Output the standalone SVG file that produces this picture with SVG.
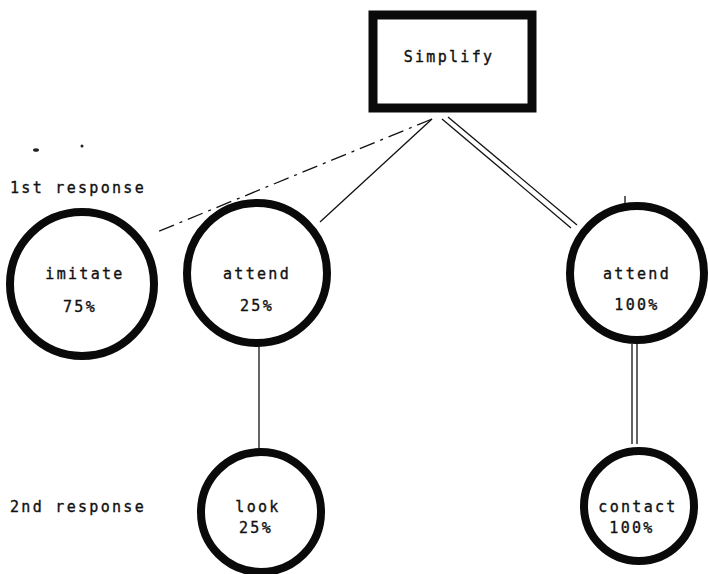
<svg xmlns="http://www.w3.org/2000/svg" width="708" height="574" viewBox="0 0 708 574">
<style>
.t{font-family:"DejaVu Sans Mono","Liberation Mono",monospace;font-size:15px;letter-spacing:2.3px;fill:#111;stroke:#111;stroke-width:0.35}
.c{text-anchor:middle}
.ring{fill:none;stroke:#0a0a0a;stroke-width:8}
.ln{stroke:#111;stroke-width:1.3;fill:none}
</style>
<rect width="708" height="574" fill="#fff"/>
<g id="connectors">
<path class="ln" d="M432,119 L157,232" stroke-dasharray="16,6,3,6"/>
<path class="ln" d="M432,119 L320,222"/>
<path class="ln" d="M442,119 L571,228"/>
<path class="ln" d="M448,117 L577,225"/>
<path class="ln" d="M625,196 L625,206"/>
<path class="ln" d="M259,346 L259,452"/>
<path class="ln" d="M632,344 L632,444"/>
<path class="ln" d="M637,344 L637,444"/>
</g>
<g id="marks">
<ellipse cx="36" cy="150" rx="3" ry="1.8" fill="#222"/>
<ellipse cx="82" cy="146" rx="1.5" ry="1.5" fill="#222"/>
</g>
<g id="simplify">
<rect x="373" y="15" width="159" height="93" fill="#fff" stroke="#0a0a0a" stroke-width="9"/>
<text class="t c" x="449" y="62">Simplify</text>
</g>
<g id="labels">
<text class="t" x="10" y="193">1st response</text>
<text class="t" x="10" y="512">2nd response</text>
</g>
<g id="imitate">
<circle class="ring" cx="82" cy="284" r="72"/>
<text class="t c" x="85" y="279">imitate</text>
<text class="t c" x="80" y="312">75%</text>
</g>
<g id="attend25">
<circle class="ring" cx="257" cy="273" r="70"/>
<text class="t c" x="257" y="279">attend</text>
<text class="t c" x="257" y="311">25%</text>
</g>
<g id="attend100">
<circle class="ring" cx="637" cy="273" r="67"/>
<text class="t c" x="637" y="279">attend</text>
<text class="t c" x="637" y="310">100%</text>
</g>
<g id="look">
<circle class="ring" cx="261" cy="512" r="60"/>
<text class="t c" x="258" y="512">look</text>
<text class="t c" x="256" y="533">25%</text>
</g>
<g id="contact">
<circle class="ring" cx="639" cy="506" r="55"/>
<text class="t c" x="638" y="512">contact</text>
<text class="t c" x="632" y="533">100%</text>
</g>
</svg>
